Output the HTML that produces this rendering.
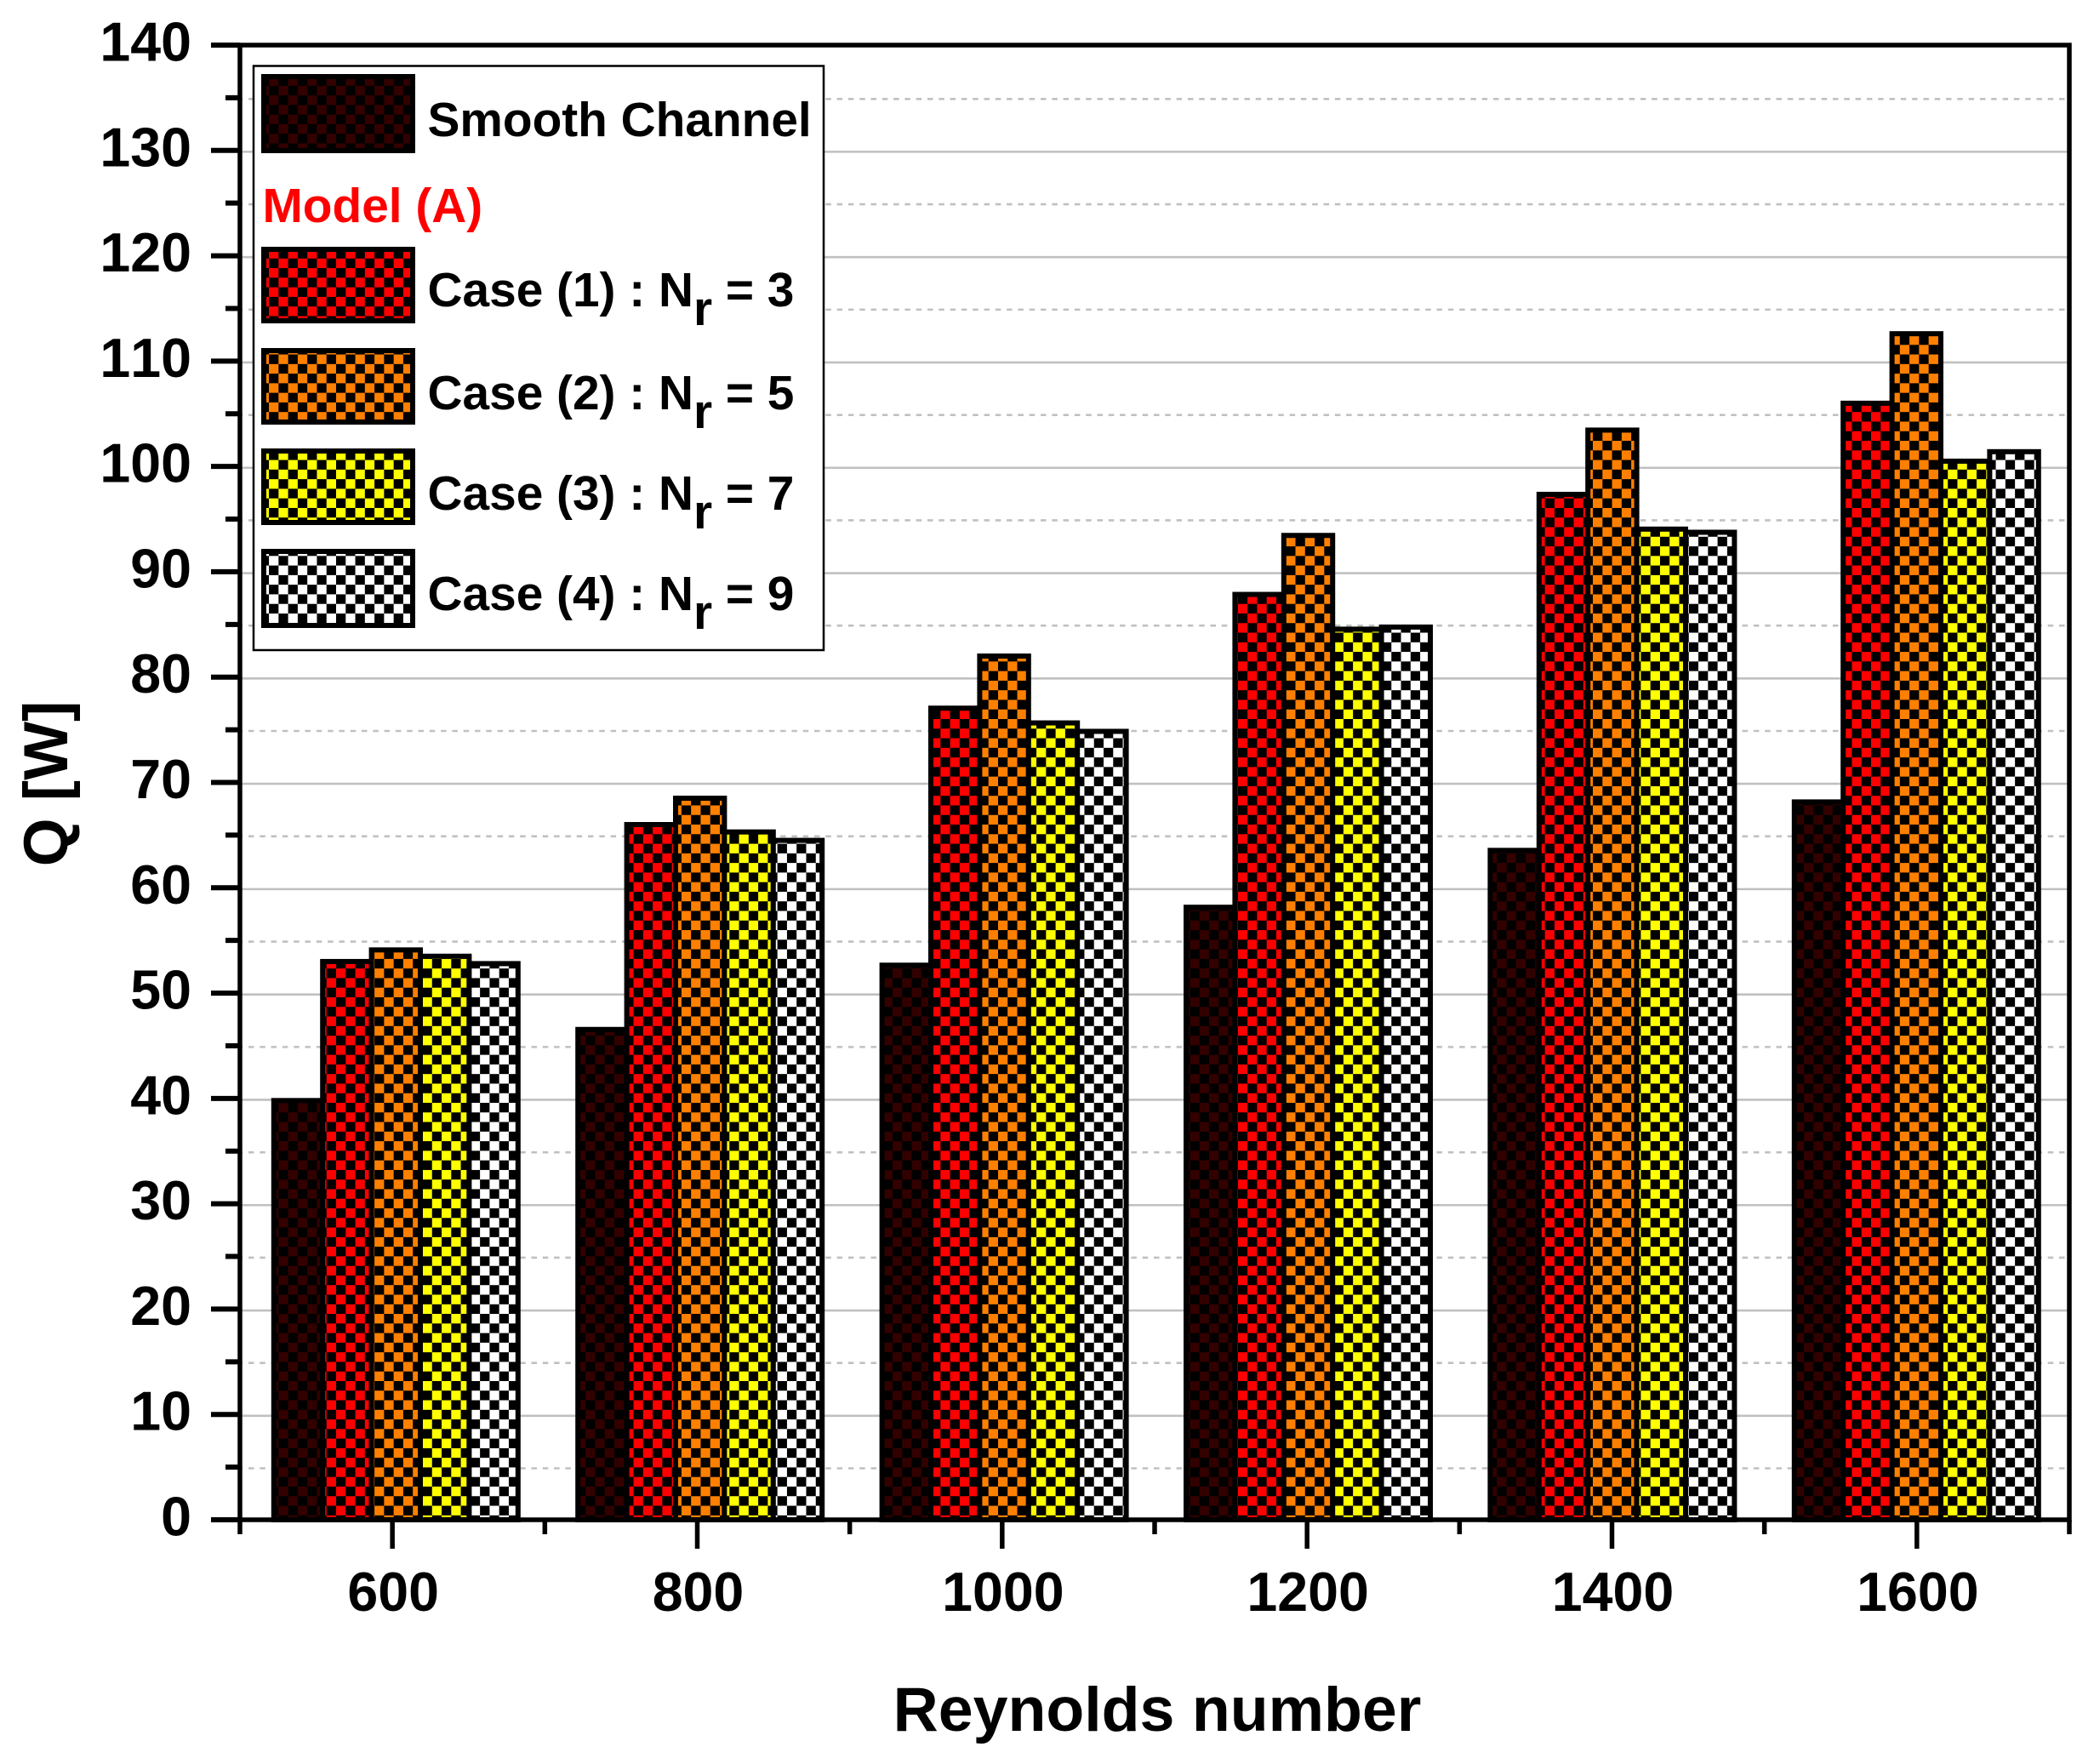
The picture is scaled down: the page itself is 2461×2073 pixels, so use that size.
<!DOCTYPE html>
<html lang="en">
<head>
<meta charset="utf-8">
<title>Q versus Reynolds number</title>
<style>
html,body{margin:0;padding:0;background:#fff;width:2461px;height:2073px;overflow:hidden}
svg{display:block}
text{font-family:"Liberation Sans",Arial,sans-serif;font-weight:bold;fill:#000;font-kerning:none}
</style>
</head>
<body>
<svg id="chart" xmlns="http://www.w3.org/2000/svg" width="2461" height="2073" viewBox="0 0 2461 2073">
  <defs>
    <pattern id="chk-dark" patternUnits="userSpaceOnUse" x="395" y="394" width="22.55" height="22.55"><rect width="22.55" height="22.55" fill="#000"/><rect width="11.275" height="11.275" fill="#330000"/><rect x="11.275" y="11.275" width="11.275" height="11.275" fill="#330000"/></pattern>
    <pattern id="chk-red" patternUnits="userSpaceOnUse" x="395" y="394" width="22.55" height="22.55"><rect width="22.55" height="22.55" fill="#000"/><rect width="11.275" height="11.275" fill="#ff0000"/><rect x="11.275" y="11.275" width="11.275" height="11.275" fill="#ff0000"/></pattern>
    <pattern id="chk-orange" patternUnits="userSpaceOnUse" x="395" y="394" width="22.55" height="22.55"><rect width="22.55" height="22.55" fill="#000"/><rect width="11.275" height="11.275" fill="#ff8000"/><rect x="11.275" y="11.275" width="11.275" height="11.275" fill="#ff8000"/></pattern>
    <pattern id="chk-yellow" patternUnits="userSpaceOnUse" x="395" y="394" width="22.55" height="22.55"><rect width="22.55" height="22.55" fill="#000"/><rect width="11.275" height="11.275" fill="#ffff00"/><rect x="11.275" y="11.275" width="11.275" height="11.275" fill="#ffff00"/></pattern>
    <pattern id="chk-white" patternUnits="userSpaceOnUse" x="395" y="394" width="22.55" height="22.55"><rect width="22.55" height="22.55" fill="#000"/><rect width="11.275" height="11.275" fill="#ffffff"/><rect x="11.275" y="11.275" width="11.275" height="11.275" fill="#ffffff"/></pattern>
  </defs>
  <rect width="2461" height="2073" fill="#fff"/>
  <g id="grid"></g>
  <g id="bars"></g>
  <g id="axes"></g>

  <text transform="translate(79,921) rotate(-90)" text-anchor="middle" font-size="73">Q [W]</text>
  <text x="1360" y="2034" text-anchor="middle" font-size="73.5">Reynolds number</text>

  <g font-size="56.8">
    <rect x="298" y="77.5" width="670" height="686.5" fill="#fff" stroke="#000" stroke-width="2.5"/>
    <rect x="310" y="90" width="175" height="87" fill="url(#chk-dark)" stroke="#000" stroke-width="6"/>
    <text x="502.5" y="160">Smooth Channel</text>
    <text x="308.5" y="261" style="fill:#ff0000">Model (A)</text>
    <rect x="310" y="293" width="175" height="84" fill="url(#chk-red)" stroke="#000" stroke-width="6"/>
    <text x="502.5" y="360">Case (1) : N<tspan dy="22">r</tspan><tspan dy="-22"> = 3</tspan></text>
    <rect x="310" y="412" width="175" height="84" fill="url(#chk-orange)" stroke="#000" stroke-width="6"/>
    <text x="502.5" y="481">Case (2) : N<tspan dy="22">r</tspan><tspan dy="-22"> = 5</tspan></text>
    <rect x="310" y="530" width="175" height="84" fill="url(#chk-yellow)" stroke="#000" stroke-width="6"/>
    <text x="502.5" y="599">Case (3) : N<tspan dy="22">r</tspan><tspan dy="-22"> = 7</tspan></text>
    <rect x="310" y="648" width="175" height="87" fill="url(#chk-white)" stroke="#000" stroke-width="6"/>
    <text x="502.5" y="717">Case (4) : N<tspan dy="22">r</tspan><tspan dy="-22"> = 9</tspan></text>
  </g>
</svg>
<script>
const categories = [600, 800, 1000, 1200, 1400, 1600];
const smoothChannel = [39.8, 46.55, 52.65, 58.15, 63.55, 68.15];
const case1 = [53.0, 66.0, 77.05, 87.85, 97.35, 106.0];
const case2 = [54.1, 68.5, 82.0, 93.45, 103.45, 112.6];
const case3 = [53.5, 65.3, 75.65, 84.55, 94.05, 100.5];
const case4 = [52.8, 64.5, 74.85, 84.75, 93.75, 101.4];
const seriesNames = ['smooth', 'case-1', 'case-2', 'case-3', 'case-4'];
const yMajorTicks = [0, 10, 20, 30, 40, 50, 60, 70, 80, 90, 100, 110, 120, 130, 140];
const yMinorTicks = [5, 15, 25, 35, 45, 55, 65, 75, 85, 95, 105, 115, 125, 135];
const xMinorTicks = [500, 700, 900, 1100, 1300, 1500, 1700];

const seriesValues = [smoothChannel, case1, case2, case3, case4];
const seriesFills = ['url(#chk-dark)', 'url(#chk-red)', 'url(#chk-orange)', 'url(#chk-yellow)', 'url(#chk-white)'];

const NS = 'http://www.w3.org/2000/svg';
const plotLeft = 282, plotRight = 2432, plotTop = 53, plotBottom = 1786;
const xMin = 500, xMax = 1700, yMin = 0, yMax = 140;
const barWidth = 57.4;

function xScale(v) { return plotLeft + (v - xMin) / (xMax - xMin) * (plotRight - plotLeft); }
function barCenter(v) { return 465.3 + (v - 600) * 1.787; }
function yScale(v) { return plotBottom - (v - yMin) / (yMax - yMin) * (plotBottom - plotTop); }
function make(tag, attrs, parent) {
  const el = document.createElementNS(NS, tag);
  for (const k in attrs) el.setAttribute(k, attrs[k]);
  parent.appendChild(el);
  return el;
}

const gridG = document.getElementById('grid');
const barsG = document.getElementById('bars');
const axesG = document.getElementById('axes');

yMajorTicks.forEach(function (t) {
  if (t === yMin || t === yMax) return;
  const y = yScale(t) + 1.6;
  const ln = make('line', { x1: plotLeft, x2: plotRight, y1: y, y2: y, stroke: '#c0c0c0', 'stroke-width': 2.6 }, gridG);
  
  
});
yMinorTicks.forEach(function (t) {
  const y = yScale(t) + 1.4;
  const ln = make('line', { x1: 278.7, x2: plotRight, y1: y, y2: y, stroke: '#c0c0c0', 'stroke-width': 2.6, 'stroke-dasharray': '6.5 6.8' }, gridG);
  
  
});

categories.forEach(function (cat, ci) {
  seriesValues.forEach(function (vals, si) {
    const left = barCenter(cat) + (si - seriesValues.length / 2) * barWidth;
    const top = yScale(vals[ci]);
    const r = make('rect', { x: left, y: top, width: barWidth, height: yScale(0) - top, fill: seriesFills[si], stroke: '#000', 'stroke-width': 6 }, barsG);
    
    
  });
});

const spine = make('path', {
  d: 'M' + plotLeft + ' ' + plotTop + 'H' + plotRight + 'V' + plotBottom + 'H' + plotLeft + 'Z',
  fill: 'none', stroke: '#000', 'stroke-width': 5.5
}, axesG);



yMajorTicks.forEach(function (t) {
  const y = yScale(t);
  const tick = make('line', { x1: 248, x2: plotLeft, y1: y, y2: y, stroke: '#000', 'stroke-width': 6 }, axesG);
  
  
  const label = make('text', { x: 225, y: y + 18.5, 'text-anchor': 'end', 'font-size': 64.5 }, axesG);
  label.textContent = String(t);
  
  
});
yMinorTicks.forEach(function (t) {
  const y = yScale(t);
  const tick = make('line', { x1: 265, x2: plotLeft, y1: y, y2: y, stroke: '#000', 'stroke-width': 6 }, axesG);
  
  
});
categories.forEach(function (cat) {
  const x = xScale(cat);
  const tick = make('line', { x1: x, x2: x, y1: plotBottom, y2: 1820, stroke: '#000', 'stroke-width': 5.5 }, axesG);
  
  
  const label = make('text', { x: x + 1, y: 1893, 'text-anchor': 'middle', 'font-size': 64.5 }, axesG);
  label.textContent = String(cat);
  
  
});
xMinorTicks.forEach(function (t) {
  const x = xScale(t);
  const tick = make('line', { x1: x, x2: x, y1: plotBottom, y2: 1803, stroke: '#000', 'stroke-width': 5.5 }, axesG);
  
  
});
</script>
</body>
</html>
